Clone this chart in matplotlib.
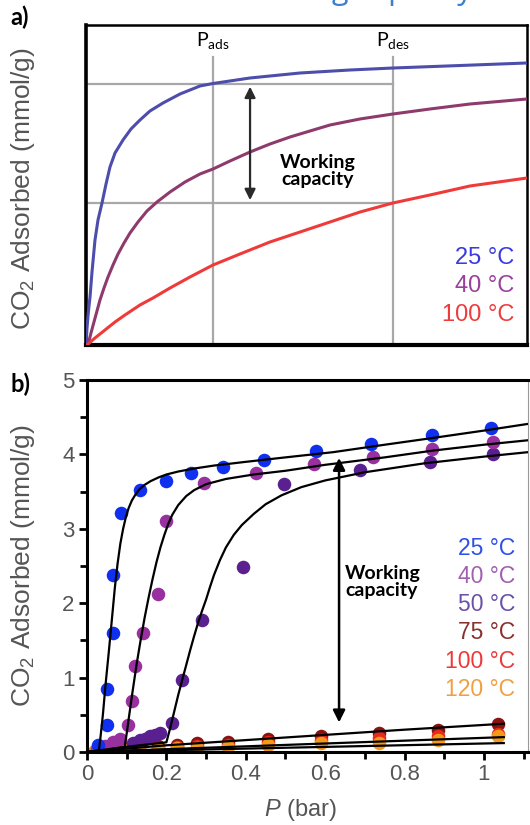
import matplotlib.pyplot as plt
from matplotlib.ticker import MultipleLocator

plt.rcParams['font.family'] = ['Liberation Sans', 'DejaVu Sans']
plt.rcParams['mathtext.fontset'] = 'custom'
plt.rcParams['mathtext.rm'] = 'Liberation Sans'
plt.rcParams['mathtext.it'] = 'Liberation Sans:italic'

# ---- panel a: schematic isotherms (normalised units) ----
a_x25 = [0, 0.0023, 0.0045, 0.0068, 0.0091, 0.0136, 0.0204, 0.0272, 0.0363, 0.0454, 0.0544, 0.0658, 0.0839,
         0.102, 0.1224, 0.1451, 0.1746, 0.2132, 0.2585, 0.288, 0.3719, 0.4853, 0.5986, 0.6961, 0.8481, 1.0]
a_y25 = [0, 0.0531, 0.0906, 0.1219, 0.15, 0.2281, 0.3281, 0.3906, 0.4438, 0.5031, 0.5563, 0.6, 0.6406,
         0.675, 0.7031, 0.7313, 0.7563, 0.7844, 0.8094, 0.8172, 0.8344, 0.85, 0.8594, 0.8656, 0.8734, 0.8813]
a_x40 = [0.0045, 0.0113, 0.0181, 0.0249, 0.0317, 0.0408, 0.0499, 0.0612, 0.0726, 0.0862, 0.0998, 0.1179, 0.1383,
         0.161, 0.1905, 0.2245, 0.2585, 0.288, 0.3265, 0.3719, 0.4172, 0.4626, 0.5079, 0.5533, 0.6213, 0.6961,
         0.78, 0.8707, 1.0]
a_y40 = [0, 0.0375, 0.0719, 0.1063, 0.1406, 0.1781, 0.2125, 0.25, 0.2844, 0.3188, 0.35, 0.3844, 0.4188,
         0.4469, 0.4781, 0.5094, 0.5344, 0.55, 0.575, 0.6031, 0.6281, 0.65, 0.6688, 0.6875, 0.7063, 0.7219,
         0.7375, 0.7531, 0.7688]
a_x100 = [0.0023, 0.0204, 0.0431, 0.0658, 0.0884, 0.1224, 0.1519, 0.1905, 0.2358, 0.288, 0.3492, 0.4172,
          0.4853, 0.5533, 0.6213, 0.6961, 0.78, 0.8707, 1.0]
a_y100 = [0, 0.0219, 0.0469, 0.0719, 0.0938, 0.125, 0.1469, 0.1781, 0.2125, 0.25, 0.2844, 0.3219,
          0.3531, 0.3844, 0.4156, 0.4438, 0.4688, 0.4969, 0.5219]
p_ads, p_des = 0.288, 0.696
q_high, q_low = 0.816, 0.444

# ---- panel b: measured points ----
p25 = [0.028, 0.05, 0.051, 0.066, 0.066, 0.085, 0.134, 0.198, 0.261, 0.342, 0.446, 0.577, 0.715, 0.868, 1.019]
q25 = [0.09, 0.36, 0.85, 1.60, 2.38, 3.21, 3.52, 3.64, 3.75, 3.83, 3.92, 4.04, 4.14, 4.26, 4.35]
p40 = [0.025, 0.045, 0.066, 0.083, 0.104, 0.114, 0.121, 0.142, 0.18, 0.198, 0.295, 0.426, 0.572, 0.721, 0.868, 1.022]
q40 = [0.04, 0.08, 0.14, 0.18, 0.36, 0.68, 1.15, 1.60, 2.12, 3.11, 3.62, 3.75, 3.87, 3.97, 4.07, 4.17]
p50 = [0.115, 0.133, 0.146, 0.159, 0.172, 0.184, 0.213, 0.239, 0.289, 0.392, 0.496, 0.688, 0.864, 1.022]
q50 = [0.12, 0.16, 0.18, 0.21, 0.23, 0.25, 0.39, 0.97, 1.77, 2.48, 3.60, 3.79, 3.90, 4.00]
p_lo = [0.02, 0.05, 0.09, 0.13, 0.18, 0.226, 0.278, 0.356, 0.455, 0.59, 0.735, 0.885, 1.035]
q75 = [0.02, 0.04, 0.06, 0.07, 0.08, 0.09, 0.12, 0.13, 0.17, 0.22, 0.26, 0.30, 0.38]
q100 = [0.01, 0.03, 0.04, 0.05, 0.06, 0.07, 0.08, 0.10, 0.13, 0.16, 0.19, 0.21, 0.24]
q120 = [0.01, 0.02, 0.03, 0.03, 0.04, 0.05, 0.06, 0.07, 0.09, 0.12, 0.12, 0.16, 0.22]

# ---- panel b: fitted curves ----
f25_p = [0, 0.03, 0.034, 0.04, 0.047, 0.055, 0.063, 0.07, 0.077, 0.084, 0.091, 0.098, 0.105, 0.113, 0.122,
         0.132, 0.145, 0.16, 0.18, 0.2, 0.23, 0.27, 0.32, 0.4, 0.5, 0.62, 0.75, 0.87, 1.0, 1.111]
f25_q = [0, 0.02, 0.2, 0.5, 0.92, 1.35, 1.8, 2.2, 2.53, 2.8, 3.0, 3.16, 3.28, 3.38, 3.46,
         3.53, 3.59, 3.64, 3.69, 3.73, 3.77, 3.81, 3.85, 3.9, 3.96, 4.03, 4.13, 4.22, 4.32, 4.41]
f40_p = [0, 0.05, 0.095, 0.1, 0.107, 0.115, 0.125, 0.135, 0.145, 0.155, 0.165, 0.175, 0.185, 0.195, 0.205,
         0.215, 0.23, 0.25, 0.27, 0.3, 0.35, 0.42, 0.5, 0.6, 0.75, 0.87, 1.0, 1.111]
f40_q = [0, 0.03, 0.07, 0.25, 0.52, 0.82, 1.18, 1.5, 1.8, 2.07, 2.32, 2.55, 2.75, 2.92, 3.07,
         3.19, 3.32, 3.44, 3.52, 3.6, 3.67, 3.73, 3.78, 3.86, 3.96, 4.05, 4.13, 4.19]
f50_p = [0, 0.1, 0.2, 0.21, 0.22, 0.23, 0.24, 0.25, 0.26, 0.27, 0.28, 0.29, 0.3, 0.31, 0.32, 0.335,
         0.35, 0.37, 0.39, 0.42, 0.45, 0.49, 0.54, 0.6, 0.7, 0.85, 1.0, 1.111]
f50_q = [0, 0.07, 0.13, 0.33, 0.55, 0.77, 0.97, 1.17, 1.37, 1.56, 1.74, 1.9, 2.05, 2.22, 2.38, 2.58,
         2.75, 2.92, 3.05, 3.2, 3.33, 3.45, 3.56, 3.65, 3.76, 3.88, 3.97, 4.03]
f75_p = [0, 0.2, 0.4, 0.6, 0.8, 1.05]
f75_q = [0, 0.09, 0.16, 0.23, 0.30, 0.38]
f100_p = [0, 1.05]
f100_q = [0, 0.20]
f120_p = [0, 1.05]
f120_q = [0, 0.12]

temps_a = ['25 °C', '40 °C', '100 °C']
temps_b = ['25 °C', '40 °C', '50 °C', '75 °C', '100 °C', '120 °C']
cols_a = ['#4d4dab', '#8e3a6c', '#f03a3a']
leg_a = ['#3a3ae0', '#9a3f9a', '#ee3b3b']
cols_b = ['#1030f0', '#98309f', '#5a2090', '#8a1212', '#e82a1e', '#f59a18']
leg_b = ['#3050e8', '#a060b0', '#6a50a8', '#8a3030', '#ee3838', '#f0a040']

fig = plt.figure(figsize=(5.3, 8.25), dpi=100)
bold = dict(family='Lato', fontweight='bold')

# title of the original slide, almost entirely cut off at the top edge
fig.text(0.892, 1 + 1 / 825, 'Isotherms to indicate the working capacity', color='#3d7fcc',
         fontsize=22, ha='right', va='baseline', family='Open Sans')
fig.text(10 / 530, 1 - 17 / 825, 'a)', fontsize=17, va='center', **bold)
fig.text(10 / 530, 1 - 384 / 825, 'b)', fontsize=17, va='center', **bold)

# ---------- a ----------
ax = fig.add_axes([86 / 530, 1 - 345 / 825, 441 / 530, 320 / 825])
ax.set_xlim(0, 1)
ax.set_ylim(0, 1)
ax.set_xticks([])
ax.set_yticks([])
ax.spines['left'].set_linewidth(2.6)
ax.spines['bottom'].set_linewidth(3)
ax.spines['top'].set_linewidth(1.8)
ax.spines['right'].set_linewidth(1.8)

grey = '#a8a8a8'
for p in (p_ads, p_des):
    ax.plot([p, p], [0, 0.9], color=grey, lw=1.6, zorder=1)
for q in (q_high, q_low):
    ax.plot([0, p_des], [q, q], color=grey, lw=1.6, zorder=1)

ax.plot(a_x25, a_y25, color=cols_a[0], lw=2.2, zorder=3)
ax.plot(a_x40, a_y40, color=cols_a[1], lw=2.2, zorder=3)
ax.plot(a_x100, a_y100, color=cols_a[2], lw=2.2, zorder=3)

ax.annotate('', xy=(0.372, q_low), xytext=(0.372, q_high),
            arrowprops=dict(arrowstyle='<|-|>', color='#2a2a2a', lw=1.6, mutation_scale=16))
ax.text(0.526, 0.544, 'Working\ncapacity', ha='center', va='center', fontsize=14,
        linespacing=1.0, **bold)
ax.text(p_ads, 0.953, r'$\mathregular{P_{ads}}$', ha='center', va='center', fontsize=14, family='Lato')
ax.text(p_des, 0.953, r'$\mathregular{P_{des}}$', ha='center', va='center', fontsize=14, family='Lato')

for i, (t, c) in enumerate(zip(temps_a, leg_a)):
    ax.text(0.972, 0.272 - i * 0.089, t, color=c, fontsize=17, ha='right', va='center')

ax.set_ylabel(r'CO$_2$ Adsorbed (mmol/g)', fontsize=19, color='#555555')
ax.yaxis.set_label_coords(-(86 - 37) / 441, 0.49)

# ---------- b ----------
bx = fig.add_axes([87 / 530, 1 - 752 / 825, 441 / 530, 372 / 825])
bx.set_xlim(0, 1.111)
bx.set_ylim(0, 5)

ms = 95
bx.scatter(p_lo, q75, s=ms, color=cols_b[3], lw=0, zorder=2)
bx.scatter(p_lo, q100, s=ms, color=cols_b[4], lw=0, zorder=2)
bx.scatter(p_lo, q120, s=ms, color=cols_b[5], lw=0, zorder=2)
bx.scatter(p50, q50, s=ms, color=cols_b[2], lw=0, zorder=2)
bx.scatter(p40, q40, s=ms, color=cols_b[1], lw=0, zorder=2)
bx.scatter(p25, q25, s=ms, color=cols_b[0], lw=0, zorder=2)

for fp, fq in [(f25_p, f25_q), (f40_p, f40_q), (f50_p, f50_q),
               (f75_p, f75_q), (f100_p, f100_q), (f120_p, f120_q)]:
    bx.plot(fp, fq, color='black', lw=1.6, zorder=3)

bx.annotate('', xy=(0.635, 0.36), xytext=(0.635, 3.99),
            arrowprops=dict(arrowstyle='<|-|>', color='black', lw=1.8, mutation_scale=18))
bx.text(0.65, 2.28, 'Working\ncapacity', ha='left', va='center', fontsize=14,
        linespacing=1.0, **bold)

for i, (t, c) in enumerate(zip(temps_b, leg_b)):
    bx.text(1.078, 2.74 - i * 0.38, t, color=c, fontsize=16.5, ha='right', va='center')

for s in ('left', 'bottom', 'top'):
    bx.spines[s].set_linewidth(2.2)
bx.spines['right'].set_linewidth(0.8)
bx.spines['right'].set_color('#999999')

bx.xaxis.set_major_locator(MultipleLocator(0.2))
bx.xaxis.set_minor_locator(MultipleLocator(0.1))
bx.yaxis.set_major_locator(MultipleLocator(1))
bx.yaxis.set_minor_locator(MultipleLocator(0.5))
bx.set_xticks([0, 0.2, 0.4, 0.6, 0.8, 1.0])
bx.set_xticklabels(['0', '0.2', '0.4', '0.6', '0.8', '1'])
bx.tick_params(which='both', direction='out', width=2, labelsize=16, labelcolor='#555555', pad=3)
bx.tick_params(which='major', length=6)
bx.tick_params(which='minor', length=5)

bx.set_ylabel(r'CO$_2$ Adsorbed (mmol/g)', fontsize=19, color='#555555')
bx.yaxis.set_label_coords(-(87 - 37) / 441, 0.5)
bx.set_xlabel(r'$\it{P}$ (bar)', fontsize=17, color='#555555')
bx.xaxis.set_label_coords((300 - 87) / 441, -(797 - 752) / 372)

fig.savefig('out.png', dpi=100)
